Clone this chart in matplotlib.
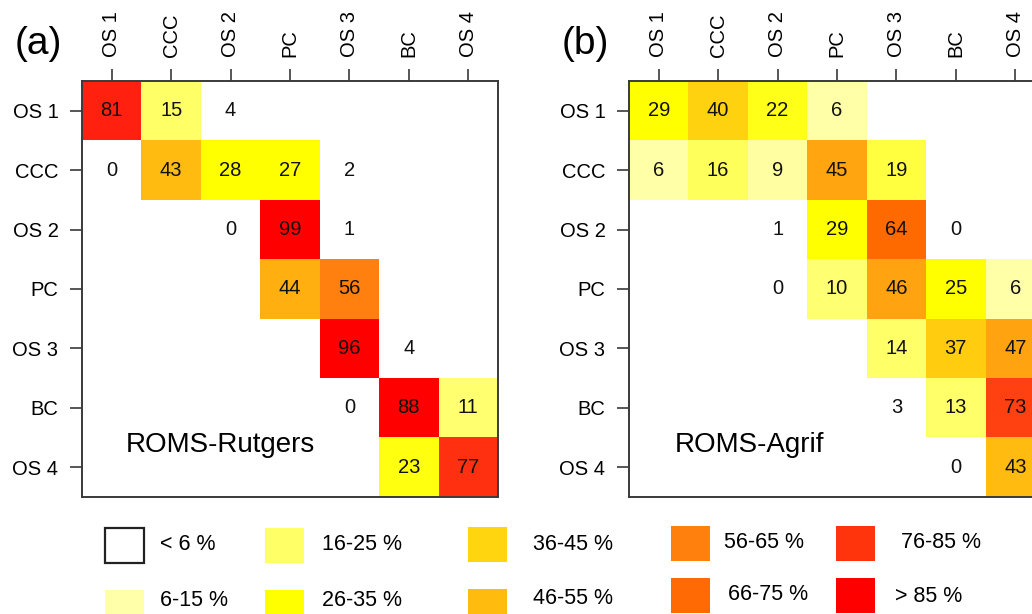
import numpy as np
import matplotlib
matplotlib.use('Agg')
import matplotlib.pyplot as plt
from matplotlib.colors import to_rgb
from matplotlib.patches import Rectangle

plt.rcParams['font.family'] = ['Liberation Sans', 'DejaVu Sans']

# --- Data: percentage of particles, rows = origin, columns = destination ---
regions = ['OS 1', 'CCC', 'OS 2', 'PC', 'OS 3', 'BC', 'OS 4']
N = np.nan

rutgers = [
    [81, 15, 4, N, N, N, N],
    [0, 43, 28, 27, 2, N, N],
    [N, N, 0, 99, 1, N, N],
    [N, N, N, 44, 56, N, N],
    [N, N, N, N, 96, 4, N],
    [N, N, N, N, 0, 88, 11],
    [N, N, N, N, N, 23, 77],
]
agrif = [
    [29, 40, 22, 6, N, N, N],
    [6, 16, 9, 45, 19, N, N],
    [N, N, 1, 29, 64, 0, N],
    [N, N, 0, 10, 46, 25, 6],
    [N, N, N, N, 14, 37, 47],
    [N, N, N, N, 3, 13, 73],
    [N, N, N, N, N, 0, 43],
]
panel_tags = ['(a)', '(b)']
model_names = ['ROMS-Rutgers', 'ROMS-Agrif']

legend_labels = ['< 6 %', '6-15 %', '16-25 %', '26-35 %', '36-45 %',
                 '46-55 %', '56-65 %', '66-75 %', '76-85 %', '> 85 %']
legend_colors = ['#ffffff', '#ffffaa', '#ffff66', '#ffff00', '#ffd50f',
                 '#ffbc0f', '#ff800c', '#ff6a05', '#ff340c', '#ff0000']

# heat scale anchors used to shade the cells (values below 5 stay white)
anchor_vals = [5, 9.5, 10, 15, 19, 22, 25, 35, 37, 41, 43, 45, 50, 56, 64, 73, 77, 81, 86, 100]
anchor_cols = ['#ffffaa', '#ffffa0', '#ffff72', '#ffff66', '#ffff40', '#ffff18', '#ffff00',
               '#ffff00', '#ffcc10', '#ffd410', '#ffbb10', '#ffa510', '#ffa010', '#ff800f',
               '#ff6a00', '#ff4010', '#ff3010', '#ff2010', '#ff0000', '#ff0000']
anchor_rgb = np.array([to_rgb(c) for c in anchor_cols])


def shade(v):
    if np.isnan(v) or v < 5:
        return (1.0, 1.0, 1.0)
    return tuple(np.interp(v, anchor_vals, anchor_rgb[:, k]) for k in range(3))


W, H = 1032, 614
fig = plt.figure(figsize=(W / 100, H / 100), dpi=100)

frame_col = '#3a3a3a'
panel_left = [82, 629]
for i, mat in enumerate([rutgers, agrif]):
    vals = np.array(mat, dtype=float)
    rgb = np.array([[shade(v) for v in row] for row in vals])
    ax = fig.add_axes([panel_left[i] / W, (H - 497) / H, 416 / W, 416 / H])
    ax.imshow(rgb, extent=(-0.5, 6.5, 6.5, -0.5), interpolation='nearest', aspect='auto')
    ax.set_xlim(-0.5, 6.5)
    ax.set_ylim(6.5, -0.5)
    for r in range(vals.shape[0]):
        for c in range(vals.shape[1]):
            if not np.isnan(vals[r, c]):
                ax.text(c, r, f'{int(vals[r, c])}', ha='center', va='center',
                        fontsize=14.5, color='#111111')
    ax.set_xticks(range(len(regions)))
    ax.set_yticks(range(len(regions)))
    ax.set_xticklabels(regions, rotation=90, fontsize=14.5)
    ax.set_yticklabels(regions, fontsize=14.5)
    ax.xaxis.tick_top()
    ax.tick_params(axis='both', length=8.5, width=1.2, color=frame_col, pad=8.5)
    for sp in ax.spines.values():
        sp.set_color(frame_col)
        sp.set_linewidth(1.4)
    ax.text(1.83 if i == 0 else 1.53, 5.62, model_names[i], ha='center', va='center',
            fontsize=20)
    fig.text((panel_left[i] - 44) / W, 1 - 44 / H, panel_tags[i], ha='center', va='center',
             fontsize=28)

# --- Legend drawn in pixel coordinates ---
leg = fig.add_axes([0, 0, 1, 1])
leg.set_xlim(0, W)
leg.set_ylim(H, 0)
leg.axis('off')
box_x = [105, 265, 468, 671, 836]
box_y = [[528, 590], [528, 590], [527, 589], [526, 578], [526, 578]]
text_x = [[160, 160], [322, 322], [533, 533], [724, 728], [901, 895]]
text_y = [[544, 600], [544, 600], [544, 598], [542, 595], [542, 597]]
for k, (lab, col) in enumerate(zip(legend_labels, legend_colors)):
    c, r = divmod(k, 2)
    edge = '#222222' if k == 0 else 'none'
    leg.add_patch(Rectangle((box_x[c], box_y[c][r]), 39, 35, facecolor=col,
                            edgecolor=edge, linewidth=1.6))
    leg.text(text_x[c][r], text_y[c][r], lab, ha='left', va='center', fontsize=15.5)

plt.savefig('out.png', dpi=100)
